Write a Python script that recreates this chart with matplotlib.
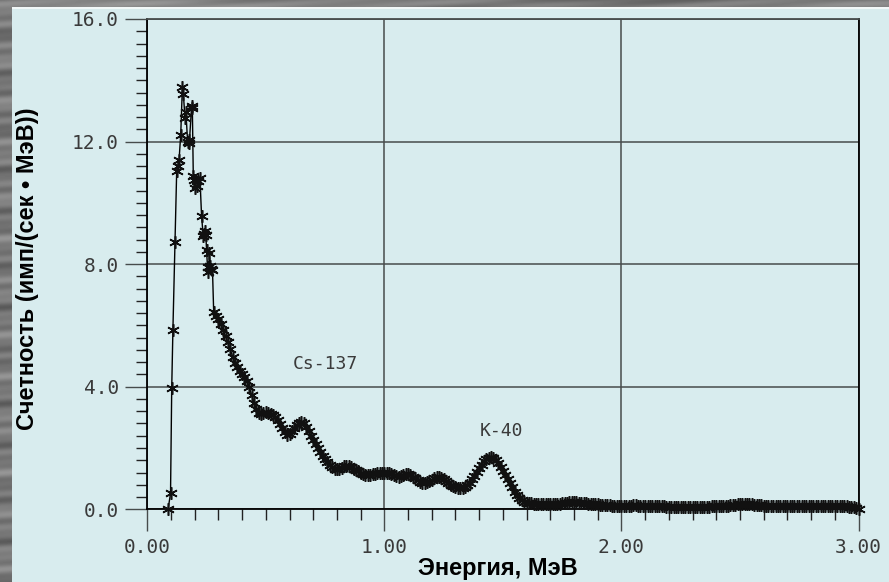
import numpy as np
import matplotlib
matplotlib.use("Agg")
import matplotlib.pyplot as plt
from matplotlib.ticker import MultipleLocator, FixedLocator
from matplotlib.patches import Rectangle

# ---- spectrum data -------------------------------------------------------
# low-energy channels (irregular, sparse)
energy_low = [0.088, 0.098, 0.103, 0.108, 0.117, 0.124, 0.128, 0.134, 0.141,
              0.148, 0.152, 0.159, 0.163, 0.170, 0.174, 0.178, 0.187, 0.190,
              0.194, 0.199, 0.203, 0.208, 0.215, 0.222, 0.229, 0.236, 0.240,
              0.243, 0.247, 0.250, 0.254, 0.258, 0.262, 0.266, 0.270, 0.275]
counts_low = [0.02, 0.52, 3.95, 5.85, 8.71, 11.05, 11.2, 11.4, 12.23,
              13.78, 13.56, 12.78, 12.95, 12.0, 11.96, 12.05, 13.16, 13.1,
              10.87, 10.75, 10.5, 10.54, 10.7, 10.82, 9.56, 8.91, 9.0,
              9.07, 8.95, 8.45, 7.9, 7.75, 8.35, 7.95, 7.85, 7.8]

# regular channels from 0.28 MeV to 3.00 MeV, 0.01 MeV apart
channel_start = 0.28
channel_step = 0.01
counts_dense = [
    6.45, 6.32, 6.2, 6.05, 5.85, 5.65, 5.45, 5.22, 4.98, 4.78,
    4.65, 4.52, 4.42, 4.33, 4.2, 3.98, 3.73, 3.48, 3.27, 3.15,
    3.12, 3.14, 3.16, 3.15, 3.12, 3.07, 3.01, 2.9, 2.77, 2.65,
    2.52, 2.44, 2.45, 2.55, 2.65, 2.75, 2.82, 2.84, 2.8, 2.7,
    2.55, 2.4, 2.26, 2.12, 2.0, 1.87, 1.75, 1.63, 1.53, 1.45,
    1.37, 1.32, 1.30, 1.32, 1.36, 1.4, 1.42, 1.41, 1.37, 1.32,
    1.28, 1.24, 1.19, 1.15, 1.12, 1.12, 1.13, 1.15, 1.16, 1.17,
    1.19, 1.2, 1.2, 1.19, 1.17, 1.14, 1.11, 1.08, 1.07, 1.08,
    1.11, 1.14, 1.15, 1.13, 1.07, 1.01, 0.95, 0.9, 0.87, 0.87,
    0.89, 0.92, 0.96, 1.01, 1.04, 1.05, 1.03, 0.98, 0.92, 0.86,
    0.8, 0.75, 0.72, 0.7, 0.69, 0.7, 0.73, 0.78, 0.86, 0.98,
    1.1, 1.23, 1.35, 1.46, 1.56, 1.63, 1.68, 1.70, 1.68, 1.6,
    1.5, 1.38, 1.25, 1.12, 0.98, 0.85, 0.72, 0.58, 0.46, 0.37,
    0.3, 0.25, 0.22, 0.2, 0.19, 0.18, 0.18, 0.17, 0.17, 0.17,
    0.17, 0.18, 0.18, 0.18, 0.18, 0.18, 0.18, 0.19, 0.2, 0.22,
    0.24, 0.25, 0.25, 0.24, 0.22, 0.2, 0.19, 0.19, 0.18, 0.18,
    0.17, 0.17, 0.16, 0.15, 0.14, 0.14, 0.13, 0.13, 0.12, 0.12,
    0.12, 0.11, 0.11, 0.11, 0.11, 0.12, 0.12, 0.13, 0.13, 0.12,
    0.12, 0.11, 0.11, 0.11, 0.1, 0.1, 0.1, 0.11, 0.11, 0.1,
    0.1, 0.09, 0.09, 0.09, 0.08, 0.08, 0.08, 0.07, 0.07, 0.07,
    0.07, 0.07, 0.07, 0.07, 0.07, 0.07, 0.08, 0.08, 0.09, 0.09,
    0.1, 0.1, 0.1, 0.11, 0.11, 0.11, 0.12, 0.12, 0.13, 0.14,
    0.15, 0.16, 0.17, 0.18, 0.18, 0.18, 0.17, 0.16, 0.15, 0.14,
    0.13, 0.13, 0.12, 0.12, 0.12, 0.12, 0.12, 0.12, 0.12, 0.12,
    0.12, 0.12, 0.12, 0.12, 0.12, 0.12, 0.12, 0.12, 0.11, 0.11,
    0.11, 0.11, 0.11, 0.11, 0.11, 0.11, 0.11, 0.11, 0.11, 0.11,
    0.11, 0.11, 0.1, 0.1, 0.1, 0.1, 0.1, 0.1, 0.09, 0.08,
    0.06, 0.04, 0.02,
]
energy_dense = np.round(channel_start + channel_step * np.arange(len(counts_dense)), 3)

energy = np.concatenate([energy_low, energy_dense])
counts = np.concatenate([counts_low, counts_dense])

x_ticks = [0, 1, 2, 3]
x_ticklabels = ["0.00", "1.00", "2.00", "3.00"]
y_ticks = [0, 4, 8, 12, 16]
y_ticklabels = ["0.0", "4.0", "8.0", "12.0", "16.0"]

peaks = [("Cs-137", 0.75, 4.75), ("K-40", 1.496, 2.56)]

# ---- figure -------------------------------------------------------------
W, H = 889, 582
fig = plt.figure(figsize=(W / 100, H / 100), dpi=100)
fig.patch.set_facecolor("#717880")

# streaky grey backdrop
bg = fig.add_axes([0, 0, 1, 1], zorder=-10)
yy, xx = np.mgrid[0:H, 0:W]
tex = (0.47
       + 0.05 * np.sin(yy / 3.1 + 0.8 * np.sin(xx / 57.0))
       + 0.04 * np.sin(yy / 7.3 + xx / 140.0)
       + 0.03 * np.sin(yy / 1.7 + xx / 23.0))
bg.imshow(tex, cmap="gray", vmin=0, vmax=1, aspect="auto",
          extent=(0, W, H, 0), interpolation="bilinear")
bg.set_xlim(0, W)
bg.set_ylim(H, 0)
bg.axis("off")

panel_color = "#d8ecee"
fig.patches.append(Rectangle((12 / W, 0), 1 - 12 / W, (H - 9) / H,
                             transform=fig.transFigure, facecolor=panel_color,
                             edgecolor="none", zorder=-5))
fig.patches.append(Rectangle((12 / W, (H - 9) / H), 1 - 12 / W, 2 / H,
                             transform=fig.transFigure, facecolor="#f2f8f8",
                             edgecolor="none", zorder=-5))

left, right = 147.3 / W, 858.5 / W
bottom, top = (H - 509.3) / H, (H - 19) / H
ax = fig.add_axes([left, bottom, right - left, top - bottom])
ax.set_facecolor(panel_color)

ax.set_xlim(0, 3)
ax.set_ylim(0, 16)

grid_color = "#474c4c"
ax.grid(True, which="major", color=grid_color, linewidth=1.1, zorder=1)
ax.set_axisbelow(True)

for side in ("left", "right", "bottom"):
    ax.spines[side].set_color("black")
    ax.spines[side].set_linewidth(1.3)
ax.spines["top"].set_color(grid_color)
ax.spines["top"].set_linewidth(1.3)

ax.xaxis.set_major_locator(FixedLocator(x_ticks))
ax.xaxis.set_minor_locator(MultipleLocator(0.1))
ax.yaxis.set_major_locator(FixedLocator(y_ticks))
ax.yaxis.set_minor_locator(MultipleLocator(0.4))
ax.set_xticklabels(x_ticklabels)
ax.set_yticklabels(y_ticklabels)

mono = "DejaVu Sans Mono"
ax.tick_params(which="major", direction="out", length=16, width=1.0,
               color=grid_color, pad=4.5, labelsize=14, labelcolor="#3a3a3a")
ax.tick_params(which="minor", direction="out", length=8, width=1.0,
               color="#222222")
for lab in ax.get_xticklabels() + ax.get_yticklabels():
    lab.set_fontfamily(mono)

ax.plot(energy, counts, color="black", linewidth=1.0,
        marker=(6, 2, 0), markersize=9, markeredgewidth=1.15,
        markeredgecolor="#111111", clip_on=False, zorder=3)

for name, ex, cy in peaks:
    ax.text(ex, cy, name, family=mono, fontsize=13, color="#3a3a3a",
            ha="center", va="center", zorder=4)

sans = ["Liberation Sans", "DejaVu Sans"]
fig.text(497.5 / W, (H - 575.5) / H, "Энергия, МэВ", family=sans,
         fontweight="bold", fontsize=17, color="black",
         ha="center", va="baseline")
fig.text(28 / W, (H - 269) / H, "Счетность (имп/(сек • МэВ))", family=sans,
         fontweight="bold", fontsize=17, color="black", rotation=90,
         ha="center", va="center")

fig.savefig("out.png", dpi=100, facecolor=fig.get_facecolor())
